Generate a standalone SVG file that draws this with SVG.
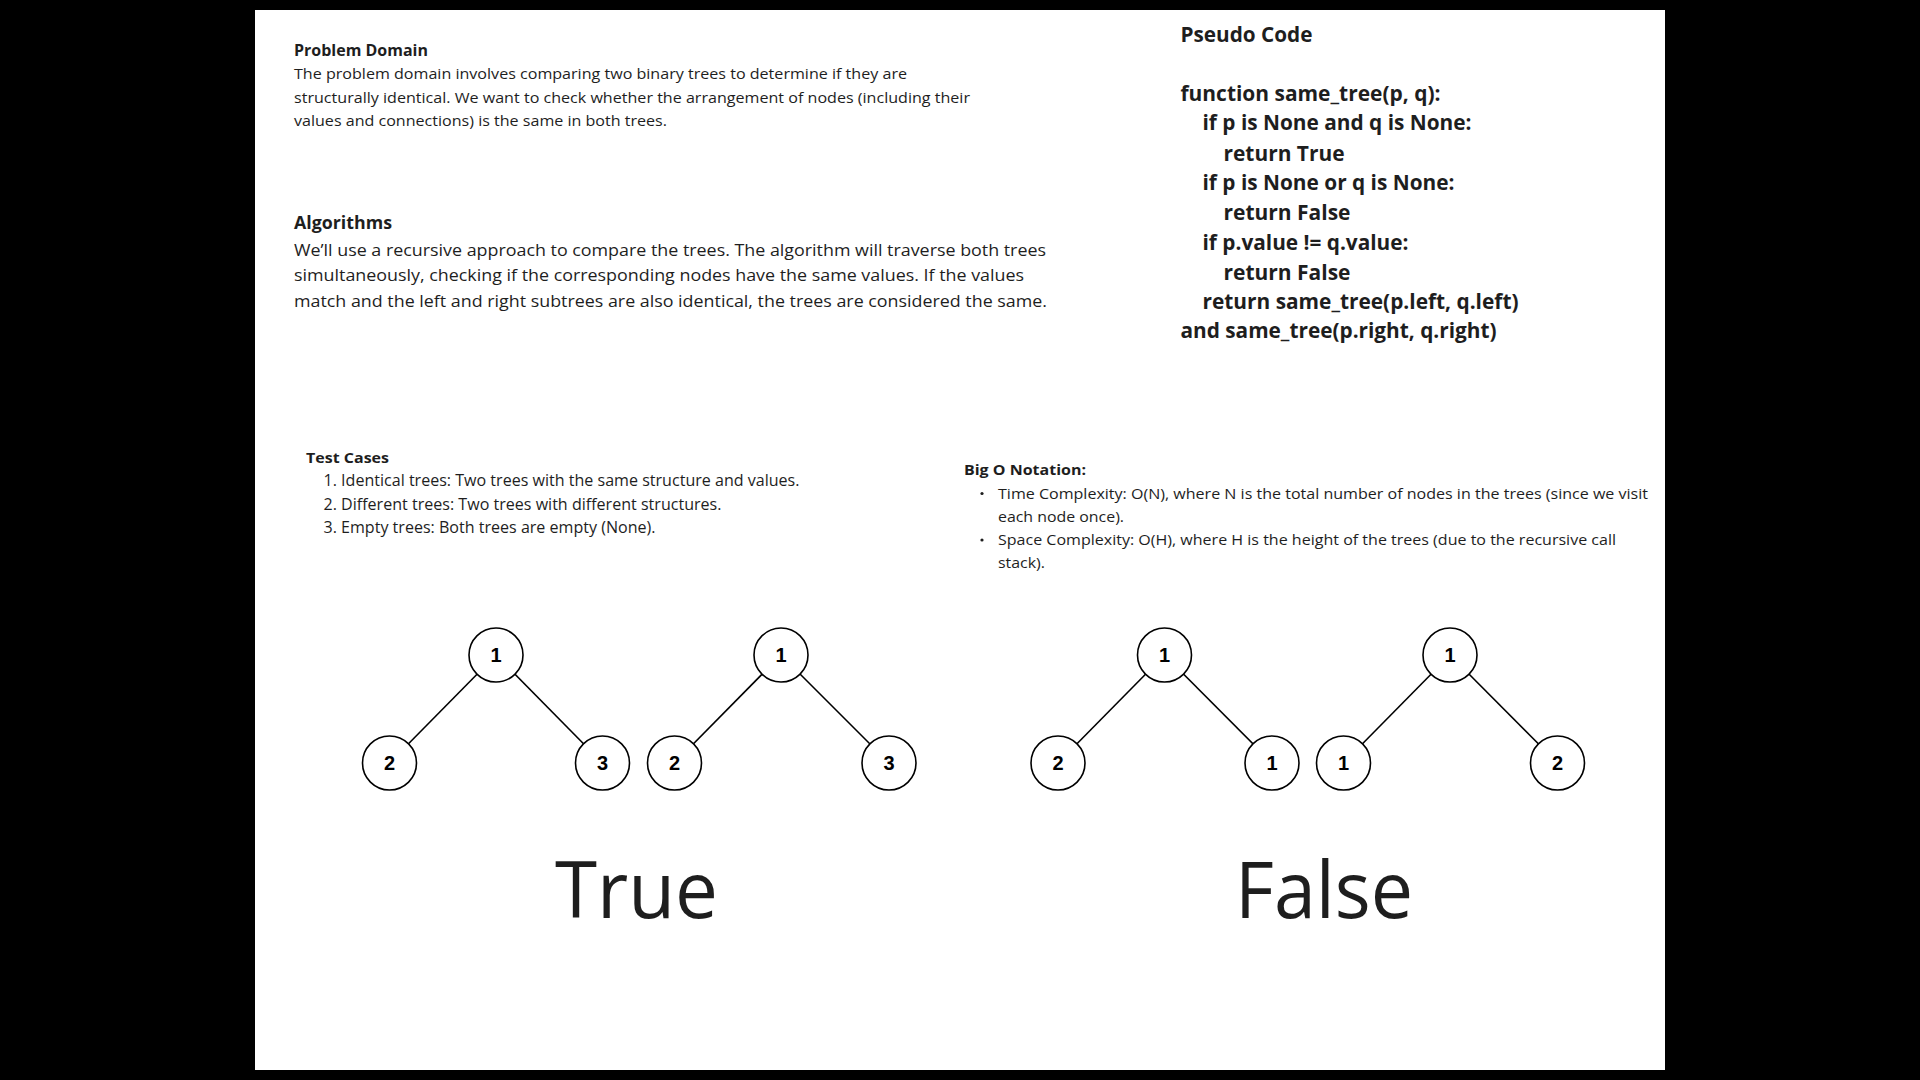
<svg xmlns="http://www.w3.org/2000/svg" width="1920" height="1080" viewBox="0 0 1920 1080">
  <style>
    .txt { font-family: "Open Sans", "Liberation Sans", sans-serif; fill: #1e1e1e; }
    .b { font-weight: 700; }
    .node circle { fill: #ffffff; stroke: #000000; stroke-width: 1.6; }
    .node text { font-family: "Liberation Sans", Arial, sans-serif; font-weight: 700; font-size: 20px; fill: #000000; text-anchor: middle; }
    .edges line { stroke: #000000; stroke-width: 1.6; }
    .big { font-family: "Open Sans", "Liberation Sans", sans-serif; font-size: 78px; fill: #1e1e1e; }
  </style>

  <!-- page background and sheet -->
  <rect x="0" y="0" width="1920" height="1080" fill="#000000"/>
  <rect x="255" y="10" width="1410" height="1060" fill="#ffffff"/>

  <!-- Problem domain -->
  <g id="problem-domain" class="txt">
    <text x="294" y="56" class="b" font-size="16.5" textLength="134" lengthAdjust="spacingAndGlyphs">Problem Domain</text>
    <text x="294" y="79" font-size="14.5" textLength="613" lengthAdjust="spacingAndGlyphs">The problem domain involves comparing two binary trees to determine if they are</text>
    <text x="294" y="102.5" font-size="14.5" textLength="676" lengthAdjust="spacingAndGlyphs">structurally identical. We want to check whether the arrangement of nodes (including their</text>
    <text x="294" y="126" font-size="14.5" textLength="373" lengthAdjust="spacingAndGlyphs">values and connections) is the same in both trees.</text>
  </g>

  <!-- Algorithms -->
  <g id="algorithms" class="txt">
    <text x="294" y="229" class="b" font-size="17.5" textLength="98" lengthAdjust="spacingAndGlyphs">Algorithms</text>
    <text x="294" y="255.5" font-size="16" textLength="752" lengthAdjust="spacingAndGlyphs">We’ll use a recursive approach to compare the trees. The algorithm will traverse both trees</text>
    <text x="294" y="281" font-size="16" textLength="730" lengthAdjust="spacingAndGlyphs">simultaneously, checking if the corresponding nodes have the same values. If the values</text>
    <text x="294" y="306.5" font-size="16" textLength="753" lengthAdjust="spacingAndGlyphs">match and the left and right subtrees are also identical, the trees are considered the same.</text>
  </g>

  <!-- Pseudo code -->
  <g id="pseudo-code" class="txt b" font-size="20.5">
    <text x="1180.5" y="41.5" font-size="20.5" textLength="132" lengthAdjust="spacingAndGlyphs">Pseudo Code</text>
    <text x="1180.5" y="100.5" textLength="260" lengthAdjust="spacingAndGlyphs">function same_tree(p, q):</text>
    <text x="1202.5" y="130" textLength="269" lengthAdjust="spacingAndGlyphs">if p is None and q is None:</text>
    <text x="1223.5" y="160.5" textLength="121" lengthAdjust="spacingAndGlyphs">return True</text>
    <text x="1202.5" y="190" textLength="252" lengthAdjust="spacingAndGlyphs">if p is None or q is None:</text>
    <text x="1223.5" y="219.5" textLength="127" lengthAdjust="spacingAndGlyphs">return False</text>
    <text x="1202.5" y="250" textLength="206" lengthAdjust="spacingAndGlyphs">if p.value != q.value:</text>
    <text x="1223.5" y="279.5" textLength="127" lengthAdjust="spacingAndGlyphs">return False</text>
    <text x="1202.5" y="309" textLength="316" lengthAdjust="spacingAndGlyphs">return same_tree(p.left, q.left)</text>
    <text x="1180.5" y="338" textLength="316" lengthAdjust="spacingAndGlyphs">and same_tree(p.right, q.right)</text>
  </g>

  <!-- Test cases -->
  <g id="test-cases" class="txt" font-size="15.5">
    <text x="306" y="463" class="b" font-size="14.5" textLength="83" lengthAdjust="spacingAndGlyphs">Test Cases</text>
    <text x="323.5" y="486" textLength="476" lengthAdjust="spacingAndGlyphs">1. Identical trees: Two trees with the same structure and values.</text>
    <text x="323.5" y="509.5" textLength="398" lengthAdjust="spacingAndGlyphs">2. Different trees: Two trees with different structures.</text>
    <text x="323.5" y="533" textLength="332" lengthAdjust="spacingAndGlyphs">3. Empty trees: Both trees are empty (None).</text>
  </g>

  <!-- Big O notation -->
  <g id="big-o" class="txt" font-size="14.5">
    <text x="964" y="475" class="b" textLength="122" lengthAdjust="spacingAndGlyphs">Big O Notation:</text>
    <circle cx="982" cy="493.5" r="1.6" fill="#1e1e1e"/>
    <text x="998" y="498.5" textLength="650" lengthAdjust="spacingAndGlyphs">Time Complexity: O(N), where N is the total number of nodes in the trees (since we visit</text>
    <text x="998" y="521.5" textLength="126" lengthAdjust="spacingAndGlyphs">each node once).</text>
    <circle cx="982" cy="540" r="1.6" fill="#1e1e1e"/>
    <text x="998" y="545" textLength="618" lengthAdjust="spacingAndGlyphs">Space Complexity: O(H), where H is the height of the trees (due to the recursive call</text>
    <text x="998" y="568" textLength="47" lengthAdjust="spacingAndGlyphs">stack).</text>
  </g>

  <!-- tree edges -->
  <g id="connectors" class="edges">
    <line x1="496" y1="655" x2="389.5" y2="763"/>
    <line x1="496" y1="655" x2="602.5" y2="763"/>
    <line x1="781" y1="655" x2="674.5" y2="763"/>
    <line x1="781" y1="655" x2="889" y2="763"/>
    <line x1="1164.5" y1="655" x2="1058" y2="763"/>
    <line x1="1164.5" y1="655" x2="1272" y2="763"/>
    <line x1="1450" y1="655" x2="1343.5" y2="763"/>
    <line x1="1450" y1="655" x2="1557.5" y2="763"/>
  </g>

  <!-- tree A (identical pair, left) -->
  <g id="a-root" class="node"><circle cx="496" cy="655" r="27"/><text x="496" y="662">1</text></g>
  <g id="a-left" class="node"><circle cx="389.5" cy="763" r="27"/><text x="389.5" y="770">2</text></g>
  <g id="a-right" class="node"><circle cx="602.5" cy="763" r="27"/><text x="602.5" y="770">3</text></g>

  <!-- tree B (identical pair, right) -->
  <g id="b-root" class="node"><circle cx="781" cy="655" r="27"/><text x="781" y="662">1</text></g>
  <g id="b-left" class="node"><circle cx="674.5" cy="763" r="27"/><text x="674.5" y="770">2</text></g>
  <g id="b-right" class="node"><circle cx="889" cy="763" r="27"/><text x="889" y="770">3</text></g>

  <!-- tree C (mirrored pair, left) -->
  <g id="c-root" class="node"><circle cx="1164.5" cy="655" r="27"/><text x="1164.5" y="662">1</text></g>
  <g id="c-left" class="node"><circle cx="1058" cy="763" r="27"/><text x="1058" y="770">2</text></g>
  <g id="c-right" class="node"><circle cx="1272" cy="763" r="27"/><text x="1272" y="770">1</text></g>

  <!-- tree D (mirrored pair, right) -->
  <g id="d-root" class="node"><circle cx="1450" cy="655" r="27"/><text x="1450" y="662">1</text></g>
  <g id="d-left" class="node"><circle cx="1343.5" cy="763" r="27"/><text x="1343.5" y="770">1</text></g>
  <g id="d-right" class="node"><circle cx="1557.5" cy="763" r="27"/><text x="1557.5" y="770">2</text></g>

  <!-- results -->
  <g id="result-true"><text class="big" x="555" y="918" textLength="163" lengthAdjust="spacingAndGlyphs">True</text></g>
  <g id="result-false"><text class="big" x="1235" y="918" textLength="178" lengthAdjust="spacingAndGlyphs">False</text></g>
</svg>
